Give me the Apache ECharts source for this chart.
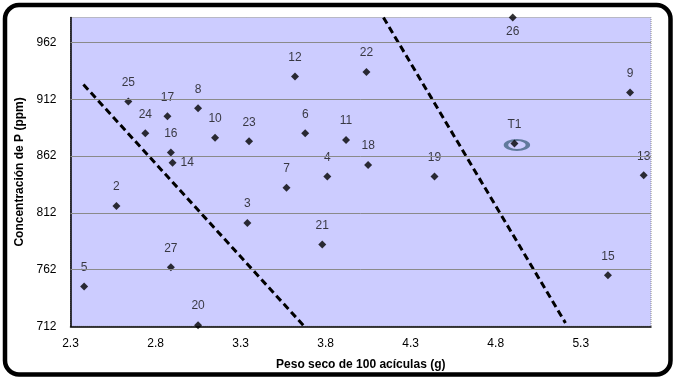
<!DOCTYPE html>
<html>
<head>
<meta charset="utf-8">
<script src="https://cdn.jsdelivr.net/npm/echarts@6/dist/echarts.min.js"></script>
<style>
html,body{margin:0;padding:0;background:#fff;}
#c{width:676px;height:381px;}
</style>
</head>
<body>
<div id="c"></div>
<script>
// ---- data ----
const ids   = ['2','3','4','5','6','7','8','9','10','11','12','13','14','15','16','17','18','19','20','21','22','23','24','25','26','27','T1'];
const xVals = [2.57,3.34,3.81,2.38,3.68,3.57,3.05,5.59,3.15,3.92,3.62,5.67,2.90,5.46,2.89,2.87,4.05,4.44,3.05,3.78,4.04,3.35,2.74,2.64,4.90,2.89,4.91];
const yVals = [818,803,844,747,882,834,904,918,878,876,932,845,856,757,865,897,854,844,713,784,936,875,882,910,984,764,873];
const xTicks = [2.3,2.8,3.3,3.8,4.3,4.8,5.3];
const yTicks = [712,762,812,862,912,962];
const line1X = [2.376,3.674];
const line1Y = [925,712];
const line2X = [4.14,5.21];
const line2Y = [984,715];
const highlightId = 'T1';
const xTitle = 'Peso seco de 100 acículas (g)';
const yTitle = 'Concentración de P (ppm)';

// ---- chart ----
const FONT = '"Liberation Sans", Arial, sans-serif';
const labelPos = {'14': {position:'right', distance:4}, '26': {position:'bottom', distance:4}};
const hi = ids.indexOf(highlightId);

const chart = echarts.init(document.getElementById('c'), null, {renderer:'canvas'});
chart.setOption({
  animation:false,
  backgroundColor:'#fff',
  textStyle:{fontFamily:FONT},
  graphic:[{
    type:'rect', z:100,
    shape:{x:5, y:5, width:665.5, height:369.5, r:14},
    style:{fill:'none', stroke:'#000', lineWidth:4.5}
  }],
  grid:{
    left:70.5, top:17.5, width:580.5, height:308.8,
    show:true, backgroundColor:'#ccccff',
    borderColor:'#8a8a8a', borderWidth:1, borderType:'dotted'
  },
  xAxis:{
    type:'value', min:2.3, max:5.713, interval:0.1,
    name:xTitle, nameLocation:'middle', nameGap:32,
    nameTextStyle:{fontFamily:FONT, fontWeight:'bold', fontSize:12, color:'#000'},
    axisLine:{show:true, onZero:false, lineStyle:{color:'#000', width:1.5}},
    axisTick:{show:false},
    splitLine:{show:false},
    axisLabel:{
      margin:11, fontSize:12, color:'#000', fontFamily:FONT,
      showMaxLabel:false,
      formatter:function(v){
        for (const t of xTicks) if (Math.abs(v - t) < 1e-6) return t.toFixed(1);
        return '';
      }
    }
  },
  yAxis:{
    type:'value', min:712, max:984, interval:2,
    name:yTitle, nameLocation:'middle', nameGap:41, nameRotate:90,
    nameTextStyle:{fontFamily:FONT, fontWeight:'bold', fontSize:12, color:'#000'},
    axisLine:{show:true, onZero:false, lineStyle:{color:'#000', width:1.5}},
    axisTick:{show:false},
    splitLine:{show:false},
    axisLabel:{
      margin:14, fontSize:12, color:'#000', fontFamily:FONT,
      showMaxLabel:false,
      formatter:function(v){
        for (const t of yTicks) if (Math.abs(v - t) < 1e-6) return String(t);
        return '';
      }
    }
  },
  series:[
    {
      type:'line', name:'grid', data:[], silent:true,
      markLine:{
        silent:true, symbol:'none', animation:false,
        label:{show:false},
        lineStyle:{color:'#8a8a8a', type:'solid', width:1},
        data:yTicks.slice(1).map(v => ({yAxis:v}))
      }
    },
    {
      type:'line', name:'limite1', silent:true, symbol:'none',
      data:line1X.map((x,i) => [x, line1Y[i]]),
      lineStyle:{color:'#000', width:3, type:[7,4]}
    },
    {
      type:'line', name:'limite2', silent:true, symbol:'none',
      data:line2X.map((x,i) => [x, line2Y[i]]),
      lineStyle:{color:'#000', width:3, type:[7,4]}
    },
    {
      type:'scatter', name:'ellipse', silent:true,
      symbol:'circle', symbolSize:[22,10], symbolOffset:[2.5,1.5],
      data:[[xVals[hi], yVals[hi]]],
      itemStyle:{color:'rgba(0,0,0,0)', borderColor:'#466583', borderWidth:3},
      z:3
    },
    {
      type:'scatter', name:'puntos', symbol:'diamond', symbolSize:8,
      itemStyle:{color:'#000'},
      clip:false, z:4,
      label:{
        show:true, position:'top', distance:9,
        fontSize:12, color:'#111', fontFamily:FONT,
        formatter:p => p.name
      },
      data:ids.map((id,i) => {
        const item = {name:id, value:[xVals[i], yVals[i]]};
        if (labelPos[id]) item.label = labelPos[id];
        return item;
      })
    }
  ]
});
</script>
</body>
</html>
